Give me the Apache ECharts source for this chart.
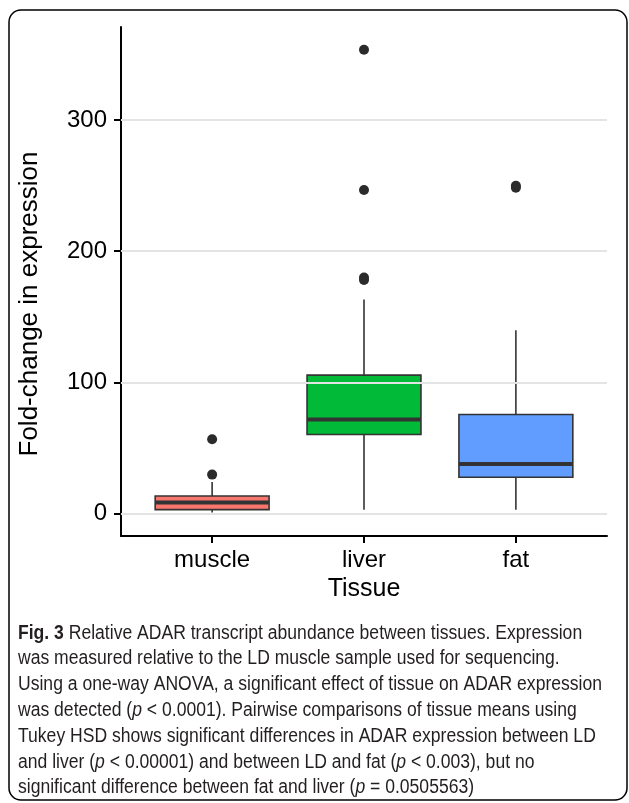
<!DOCTYPE html>
<html>
<head>
<meta charset="utf-8">
<script src="https://cdn.jsdelivr.net/npm/echarts@6/dist/echarts.min.js"></script>
<style>
  html, body { margin: 0; padding: 0; background: #fff; }
  #chart { width: 629px; height: 803px; }
</style>
</head>
<body>
<div id="chart"></div>
<script>
// ---- data ----
var categories = ['muscle', 'liver', 'fat'];
var whiskerLow = [0.8, 3.0, 3.0];
var q1 = [3.0, 60.3, 27.7];
var medians = [8.4, 71.7, 37.8];
var q3 = [13.4, 105.5, 75.5];
var whiskerHigh = [24.1, 163.2, 139.8];
var boxColors = ['#F8766D', '#00BA38', '#619CFF'];
var outlierCat = [1, 1, 2, 2, 2, 2, 3, 3];
var outlierVal = [56.7, 29.7, 353.5, 246.6, 180.0, 178.0, 249.9, 248.3];
var yTicks = [0, 100, 200, 300];
var captionLines = [
  '{b|Fig. 3} Relative ADAR transcript abundance between tissues. Expression',
  'was measured relative to the LD muscle sample used for sequencing.',
  'Using a one-way ANOVA, a significant effect of tissue on ADAR expression',
  'was detected ({i|p} < 0.0001). Pairwise comparisons of tissue means using',
  'Tukey HSD shows significant differences in ADAR expression between LD',
  'and liver ({i|p} < 0.00001) and between LD and fat ({i|p} < 0.003), but no',
  'significant difference between fat and liver ({i|p} = 0.0505563)'
];

var boxData = categories.map(function (c, i) {
  return [i + 1, whiskerLow[i], q1[i], medians[i], q3[i], whiskerHigh[i]];
});
var outlierData = outlierCat.map(function (c, i) { return [c, outlierVal[i]]; });

var chart = echarts.init(document.getElementById('chart'), null, { renderer: 'canvas' });
var axisFont = 'Liberation Sans, Arial, sans-serif';
var capFont = '"Liberation Sans", Arial, sans-serif';
var capSize = 20;

// horizontal condensing of the caption so the widest line spans ~584px
var mctx = document.createElement('canvas').getContext('2d');
mctx.font = capSize + 'px ' + capFont;
var refLine = captionLines[2].replace(/\{[a-z]\|([^}]*)\}/g, '$1');
var capScale = 584 / mctx.measureText(refLine).width;

var captionGraphics = captionLines.map(function (t, i) {
  return {
    type: 'text',
    x: 18,
    y: 633 + i * 25.8,
    scaleX: capScale,
    style: {
      x: 0, y: 0,
      text: t,
      verticalAlign: 'middle',
      fontFamily: capFont,
      fontSize: capSize,
      fill: '#231f20',
      rich: {
        b: { fontWeight: 'bold', fontFamily: capFont, fontSize: capSize, fill: '#231f20' },
        i: { fontStyle: 'italic', fontFamily: capFont, fontSize: capSize, fill: '#231f20' }
      }
    }
  };
});

var option = {
  animation: false,
  backgroundColor: '#ffffff',
  grid: { left: 121, right: 22, top: 27, bottom: 267 },
  xAxis: {
    type: 'value',
    min: 0.4,
    max: 3.6,
    name: 'Tissue',
    nameLocation: 'middle',
    nameGap: 41,
    nameTextStyle: { fontFamily: axisFont, fontSize: 25, color: '#000' },
    axisLine: { show: true, onZero: false, lineStyle: { color: '#000', width: 2 } },
    axisTick: { show: true, length: 7, customValues: [1, 2, 3], lineStyle: { color: '#000', width: 2 } },
    axisLabel: {
      customValues: [1, 2, 3],
      margin: 12,
      fontFamily: axisFont, fontSize: 24, color: '#000',
      formatter: function (v) { return categories[Math.round(v) - 1] || ''; }
    },
    splitLine: { show: false }
  },
  yAxis: {
    type: 'value',
    min: -17.1,
    max: 370.9,
    axisLine: { show: true, onZero: false, lineStyle: { color: '#000', width: 2 } },
    axisTick: { show: true, length: 7, customValues: yTicks, lineStyle: { color: '#000', width: 2 } },
    axisLabel: {
      customValues: yTicks,
      margin: 14,
      fontFamily: axisFont, fontSize: 24, color: '#000'
    },
    splitLine: { show: false }
  },
  graphic: [
    {
      type: 'rect',
      shape: { x: 9, y: 10, width: 618, height: 790, r: 12 },
      style: { fill: 'none', stroke: '#000', lineWidth: 1.5 },
      z: -1
    },
    {
      type: 'text',
      x: 30,
      y: 304,
      rotation: Math.PI / 2,
      style: {
        x: 0, y: 0,
        text: 'Fold-change in expression',
        align: 'center',
        verticalAlign: 'middle',
        fontFamily: axisFont,
        fontSize: 26,
        fill: '#000'
      }
    }
  ].concat(captionGraphics),
  series: [
    {
      type: 'line',
      data: [],
      silent: true,
      markLine: {
        silent: true,
        symbol: ['none', 'none'],
        label: { show: false },
        lineStyle: { color: '#e4e4e4', width: 2, type: 'solid' },
        data: yTicks.map(function (v) { return { yAxis: v }; })
      },
      z: 0
    },
    {
      type: 'custom',
      data: boxData,
      z: 2,
      encode: { x: 0, y: [1, 2, 3, 4, 5] },
      renderItem: function (params, api) {
        var x = api.value(0);
        var idx = params.dataIndex;
        var pLow = api.coord([x, api.value(1)]);
        var pQ1 = api.coord([x, api.value(2)]);
        var pMed = api.coord([x, api.value(3)]);
        var pQ3 = api.coord([x, api.value(4)]);
        var pHigh = api.coord([x, api.value(5)]);
        var w = api.size([0.75, 0])[0];
        var cx = pQ1[0];
        var stroke = '#333333';
        return {
          type: 'group',
          children: [
            { type: 'line', shape: { x1: cx, y1: pQ3[1], x2: cx, y2: pHigh[1] }, style: { stroke: stroke, lineWidth: 1.6 } },
            { type: 'line', shape: { x1: cx, y1: pQ1[1], x2: cx, y2: pLow[1] }, style: { stroke: stroke, lineWidth: 1.6 } },
            { type: 'rect', shape: { x: cx - w / 2, y: pQ3[1], width: w, height: pQ1[1] - pQ3[1] }, style: { fill: boxColors[idx], stroke: stroke, lineWidth: 1.6 } },
            { type: 'line', shape: { x1: cx - w / 2, y1: pMed[1], x2: cx + w / 2, y2: pMed[1] }, style: { stroke: stroke, lineWidth: 4 } }
          ]
        };
      }
    },
    {
      type: 'scatter',
      data: outlierData,
      symbol: 'circle',
      symbolSize: 10,
      itemStyle: { color: '#2b2b2b', opacity: 1 },
      z: 3
    }
  ]
};
chart.setOption(option);
</script>
</body>
</html>
